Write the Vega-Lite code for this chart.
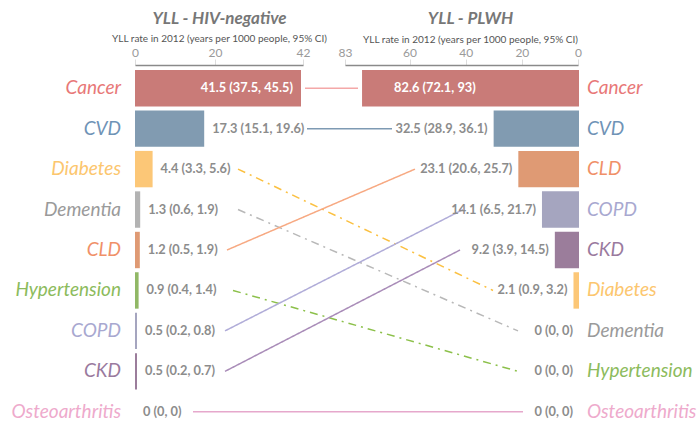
{
  "$schema": "https://vega.github.io/schema/vega-lite/v6.json",
  "width": 699,
  "height": 351,
  "autosize": "none",
  "padding": {"top": 70, "left": 0, "right": 0, "bottom": 0},
  "background": "white",
  "config": {"view": {"stroke": null}, "font": "Lato", "text": {"font": "Lato"}},
  "datasets": {
    "neg": [
      {"cause": "Cancer", "rank": 1, "value": 41.5, "lo": 37.5, "hi": 45.5, "label": "41.5 (37.5, 45.5)"},
      {"cause": "CVD", "rank": 2, "value": 17.3, "lo": 15.1, "hi": 19.6, "label": "17.3 (15.1, 19.6)"},
      {"cause": "Diabetes", "rank": 3, "value": 4.4, "lo": 3.3, "hi": 5.6, "label": "4.4 (3.3, 5.6)"},
      {"cause": "Dementia", "rank": 4, "value": 1.3, "lo": 0.6, "hi": 1.9, "label": "1.3 (0.6, 1.9)"},
      {"cause": "CLD", "rank": 5, "value": 1.2, "lo": 0.5, "hi": 1.9, "label": "1.2 (0.5, 1.9)"},
      {"cause": "Hypertension", "rank": 6, "value": 0.9, "lo": 0.4, "hi": 1.4, "label": "0.9 (0.4, 1.4)"},
      {"cause": "COPD", "rank": 7, "value": 0.5, "lo": 0.2, "hi": 0.8, "label": "0.5 (0.2, 0.8)"},
      {"cause": "CKD", "rank": 8, "value": 0.5, "lo": 0.2, "hi": 0.7, "label": "0.5 (0.2, 0.7)"},
      {"cause": "Osteoarthritis", "rank": 9, "value": 0, "lo": 0, "hi": 0, "label": "0 (0, 0)"}
    ],
    "plwh": [
      {"cause": "Cancer", "rank": 1, "value": 82.6, "lo": 72.1, "hi": 93, "label": "82.6 (72.1, 93)"},
      {"cause": "CVD", "rank": 2, "value": 32.5, "lo": 28.9, "hi": 36.1, "label": "32.5 (28.9, 36.1)"},
      {"cause": "CLD", "rank": 3, "value": 23.1, "lo": 20.6, "hi": 25.7, "label": "23.1 (20.6, 25.7)"},
      {"cause": "COPD", "rank": 4, "value": 14.1, "lo": 6.5, "hi": 21.7, "label": "14.1 (6.5, 21.7)"},
      {"cause": "CKD", "rank": 5, "value": 9.2, "lo": 3.9, "hi": 14.5, "label": "9.2 (3.9, 14.5)"},
      {"cause": "Diabetes", "rank": 6, "value": 2.1, "lo": 0.9, "hi": 3.2, "label": "2.1 (0.9, 3.2)"},
      {"cause": "Dementia", "rank": 7, "value": 0, "lo": 0, "hi": 0, "label": "0 (0, 0)"},
      {"cause": "Hypertension", "rank": 8, "value": 0, "lo": 0, "hi": 0, "label": "0 (0, 0)"},
      {"cause": "Osteoarthritis", "rank": 9, "value": 0, "lo": 0, "hi": 0, "label": "0 (0, 0)"}
    ],
    "links": [
      {"cause": "Cancer", "rank_neg": 1, "rank_plwh": 1, "start": 42.5, "end": 55.75, "trend": "same"},
      {"cause": "CVD", "rank_neg": 2, "rank_plwh": 2, "start": 43, "end": 64.25, "trend": "same"},
      {"cause": "Diabetes", "rank_neg": 3, "rank_plwh": 6, "start": 25.75, "end": 89.5, "trend": "fell"},
      {"cause": "Dementia", "rank_neg": 4, "rank_plwh": 7, "start": 25.75, "end": 95.75, "trend": "fell"},
      {"cause": "CLD", "rank_neg": 5, "rank_plwh": 3, "start": 23, "end": 70, "trend": "rose"},
      {"cause": "Hypertension", "rank_neg": 6, "rank_plwh": 8, "start": 24.5, "end": 95.75, "trend": "fell"},
      {"cause": "COPD", "rank_neg": 7, "rank_plwh": 4, "start": 22.5, "end": 82, "trend": "rose"},
      {"cause": "CKD", "rank_neg": 8, "rank_plwh": 5, "start": 22.5, "end": 81.25, "trend": "rose"},
      {"cause": "Osteoarthritis", "rank_neg": 9, "rank_plwh": 9, "start": 14.5, "end": 97, "trend": "same"}
    ]
  },
  "layer": [
    {
      "data": {"name": "links"},
      "mark": {"type": "rule", "strokeWidth": 1.5},
      "encoding": {
        "x": {"field": "start", "type": "quantitative", "scale": {"domain": [0, 42], "range": [135, 303], "nice": false, "zero": false}, "axis": null},
        "x2": {"field": "end"},
        "y": {"field": "rank_neg", "type": "ordinal", "axis": null, "scale": {"domain": [1, 2, 3, 4, 5, 6, 7, 8, 9], "range": [0, 360], "paddingInner": 0.1, "paddingOuter": 0}},
        "y2": {"field": "rank_plwh"},
        "stroke": {"field": "cause", "type": "nominal", "legend": null,
          "scale": {"domain": ["Cancer", "CVD", "Diabetes", "Dementia", "CLD", "Hypertension", "COPD", "CKD", "Osteoarthritis"],
                    "range": ["#f4a8a8", "#7e9ab3", "#fbc041", "#b8b8b8", "#f7a982", "#8cc04a", "#b0acd8", "#a98cb8", "#e6a8cc"]}},
        "strokeDash": {"field": "trend", "type": "nominal", "legend": null,
          "scale": {"domain": ["fell", "rose", "same"], "range": [[8, 5, 2, 5], [1, 0], [1, 0]]}}
      }
    },
    {
      "data": {"name": "neg"},
      "encoding": {
        "y": {"field": "rank", "type": "ordinal", "axis": null}
      },
      "layer": [
        {
          "mark": {"type": "bar"},
          "encoding": {
            "x": {"field": "value", "type": "quantitative",
              "scale": {"domain": [0, 42], "range": [135, 303], "nice": false, "zero": true},
              "axis": {"orient": "top", "values": [0, 20, 42], "offset": 5, "grid": false,
                "domain": true, "domainColor": "#8a8a8a", "domainWidth": 1.5,
                "ticks": true, "tickColor": "#dddddd", "tickSize": 6,
                "labelFontSize": 12, "labelColor": "#9a9a9a", "labelPadding": 0, "labelFlush": false,
                "title": "YLL rate in 2012 (years per 1000 people, 95% CI)", "titleFontSize": 10, "titleFontWeight": "normal", "titleColor": "#555555", "titlePadding": 3}},
            "color": {"field": "cause", "type": "nominal", "legend": null,
              "scale": {"domain": ["Cancer", "CVD", "Diabetes", "Dementia", "CLD", "Hypertension", "COPD", "CKD", "Osteoarthritis"],
                        "range": ["#c97b78", "#819bb1", "#fcc777", "#b3b3b3", "#df9a74", "#91b866", "#a5a5bf", "#9b7d9b", "#e6a9c9"]}}
          }
        },
        {
          "transform": [{"filter": "datum.cause === 'Cancer'"}],
          "mark": {"type": "text", "align": "right", "baseline": "middle", "dx": -8, "fill": "white", "fontSize": 12.8, "fontWeight": "bold"},
          "encoding": {"x": {"field": "value", "type": "quantitative"}, "text": {"field": "label"}}
        },
        {
          "transform": [{"filter": "datum.cause !== 'Cancer'"}],
          "mark": {"type": "text", "align": "left", "baseline": "middle", "dx": 8, "fill": "#8c8c8c", "fontSize": 12.8, "fontWeight": "bold"},
          "encoding": {"x": {"field": "value", "type": "quantitative"}, "text": {"field": "label"}}
        },
        {
          "mark": {"type": "text", "align": "right", "baseline": "middle", "dx": -14, "fontSize": 19, "fontStyle": "italic"},
          "encoding": {
            "x": {"datum": 0, "type": "quantitative"},
            "text": {"field": "cause"},
            "fill": {"field": "cause", "type": "nominal", "legend": null,
              "scale": {"domain": ["Cancer", "CVD", "Diabetes", "Dementia", "CLD", "Hypertension", "COPD", "CKD", "Osteoarthritis"],
                        "range": ["#e87878", "#6f93b6", "#fcc66e", "#9a9a9a", "#f09068", "#8cbb5c", "#a8a8d0", "#9a7a9e", "#eeaacc"]}}
          }
        }
      ]
    },
    {
      "data": {"values": [{}]},
      "mark": {"type": "point", "opacity": 0},
      "encoding": {
        "x": {"datum": 0, "type": "quantitative", "scale": {"domain": [0, 42], "range": [135, 303], "nice": false},
          "axis": {"orient": "top", "offset": 5, "domain": false, "ticks": false, "labels": false, "grid": false,
            "title": "YLL - HIV-negative", "titleFontSize": 17, "titleFontStyle": "italic", "titleFontWeight": "bold", "titleColor": "#777777", "titlePadding": 38}}
      }
    },
    {
      "data": {"name": "plwh"},
      "encoding": {
        "y": {"field": "rank", "type": "ordinal", "axis": null}
      },
      "layer": [
        {
          "mark": {"type": "bar"},
          "encoding": {
            "x": {"field": "value", "type": "quantitative",
              "scale": {"domain": [0, 83], "range": [579, 361], "nice": false, "zero": true},
              "axis": {"orient": "top", "offset": 5, "domain": false, "ticks": false, "labels": false, "grid": false,
                "title": "YLL rate in 2012 (years per 1000 people, 95% CI)", "titleFontSize": 10, "titleFontWeight": "normal", "titleColor": "#555555", "titlePadding": 21}},
            "color": {"field": "cause", "type": "nominal", "legend": null}
          }
        },
        {
          "transform": [{"filter": "datum.cause === 'Cancer'"}],
          "mark": {"type": "text", "align": "left", "baseline": "middle", "dx": 32, "fill": "white", "fontSize": 12.8, "fontWeight": "bold"},
          "encoding": {"x": {"field": "value", "type": "quantitative"}, "text": {"field": "label"}}
        },
        {
          "transform": [{"filter": "datum.cause !== 'Cancer'"}],
          "mark": {"type": "text", "align": "right", "baseline": "middle", "dx": -6, "fill": "#8c8c8c", "fontSize": 12.8, "fontWeight": "bold"},
          "encoding": {"x": {"field": "value", "type": "quantitative"}, "text": {"field": "label"}}
        },
        {
          "mark": {"type": "text", "align": "left", "baseline": "middle", "dx": 8, "fontSize": 19, "fontStyle": "italic"},
          "encoding": {
            "x": {"datum": 0, "type": "quantitative"},
            "text": {"field": "cause"},
            "fill": {"field": "cause", "type": "nominal", "legend": null}
          }
        }
      ]
    },
    {
      "data": {"values": [{}]},
      "mark": {"type": "point", "opacity": 0},
      "encoding": {
        "x": {"datum": 0, "type": "quantitative", "scale": {"domain": [0, 83], "range": [578, 345], "nice": false},
          "axis": {"orient": "top", "values": [0, 20, 40, 60, 83], "offset": 5, "grid": false,
            "domain": true, "domainColor": "#8a8a8a", "domainWidth": 1.5,
            "ticks": true, "tickColor": "#dddddd", "tickSize": 6,
            "labelFontSize": 12, "labelColor": "#9a9a9a", "labelPadding": 0, "labelFlush": false, "title": null}}
      }
    },
    {
      "data": {"values": [{}]},
      "mark": {"type": "point", "opacity": 0},
      "encoding": {
        "x": {"datum": 0, "type": "quantitative", "scale": {"domain": [0, 83], "range": [579, 361], "nice": false},
          "axis": {"orient": "top", "offset": 5, "domain": false, "ticks": false, "labels": false, "grid": false,
            "title": "YLL - PLWH", "titleFontSize": 17, "titleFontStyle": "italic", "titleFontWeight": "bold", "titleColor": "#777777", "titlePadding": 38}}
      }
    }
  ],
  "resolve": {"scale": {"x": "independent"}, "axis": {"x": "independent"}}
}
